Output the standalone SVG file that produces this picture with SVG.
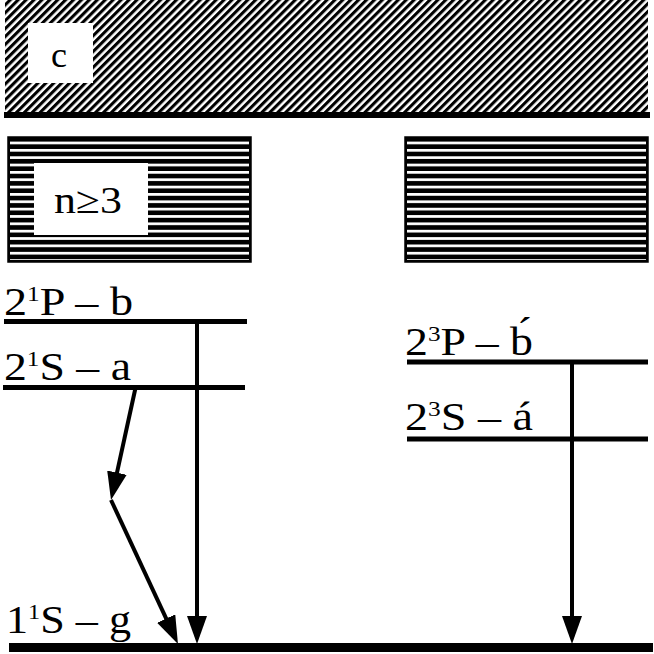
<svg xmlns="http://www.w3.org/2000/svg" width="654" height="654" viewBox="0 0 654 654">
<style>
  .lbl { font-family: "Liberation Serif", "Times New Roman", serif; fill: #000; }
  .lvl { stroke: #000; stroke-width: 5; fill: none; }
  .arr { stroke: #000; stroke-width: 4; fill: none; marker-end: url(#ah); }
  .box { stroke: #000; stroke-width: 1.5; }
</style>
<defs>
  <pattern id="diag" patternUnits="userSpaceOnUse" width="5.6" height="10" patternTransform="rotate(45)">
    <rect x="0" y="0" width="5.6" height="10" fill="#fff"/>
    <rect x="0" y="0" width="3.1" height="10" fill="#000"/>
  </pattern>
  <pattern id="horiz" patternUnits="userSpaceOnUse" x="0" y="137" width="10" height="7.35">
    <rect x="0" y="0" width="10" height="7.35" fill="#000"/>
    <rect x="0" y="4.6" width="10" height="2.7" fill="#fff"/>
  </pattern>
  <marker id="ah" viewBox="0 0 28 20" refX="20" refY="10" markerWidth="28" markerHeight="20" markerUnits="userSpaceOnUse" orient="auto">
    <path d="M0,0 L28,10 L0,20 Z" fill="#000"/>
  </marker>
</defs>

<g id="continuum">
  <rect x="5" y="0" width="643" height="112" fill="url(#diag)"/>
  <line x1="4" y1="115" x2="650" y2="115" stroke="#000" stroke-width="6"/>
  <rect x="28" y="23" width="65" height="60" fill="#fff"/>
  <text class="lbl" x="59" y="67" font-size="36" text-anchor="middle">c</text>
</g>

<g id="singlet-band">
  <rect class="box" x="8" y="137" width="243" height="125" fill="#000"/>
  <rect x="10" y="137" width="239" height="123" fill="url(#horiz)"/>
  <rect x="34" y="163" width="114" height="72" fill="#fff"/>
  <text class="lbl" x="54" y="213" font-size="38" textLength="68" lengthAdjust="spacingAndGlyphs">n≥3</text>
</g>

<g id="triplet-band">
  <rect class="box" x="405" y="137" width="243" height="125" fill="#000"/>
  <rect x="407" y="137" width="239" height="123" fill="url(#horiz)"/>
</g>

<g id="level-2P1">
  <line class="lvl" x1="4" y1="321.5" x2="247" y2="321.5"/>
  <text class="lbl" x="4" y="315" font-size="40" textLength="129" lengthAdjust="spacingAndGlyphs">2<tspan font-size="22" dy="-14">1</tspan><tspan dy="14">P – b</tspan></text>
</g>

<g id="level-2S1">
  <line class="lvl" x1="3" y1="387.5" x2="245" y2="387.5"/>
  <text class="lbl" x="4" y="380" font-size="40" textLength="127" lengthAdjust="spacingAndGlyphs">2<tspan font-size="22" dy="-14">1</tspan><tspan dy="14">S – a</tspan></text>
</g>

<g id="level-2P3">
  <line class="lvl" x1="407" y1="362" x2="648" y2="362"/>
  <text class="lbl" x="405" y="355" font-size="40" textLength="128" lengthAdjust="spacingAndGlyphs">2<tspan font-size="22" dy="-14">3</tspan><tspan dy="14">P – b́</tspan></text>
</g>

<g id="level-2S3">
  <line class="lvl" x1="407" y1="439" x2="648" y2="439"/>
  <text class="lbl" x="405" y="430" font-size="40" textLength="128" lengthAdjust="spacingAndGlyphs">2<tspan font-size="22" dy="-14">3</tspan><tspan dy="14">S – á</tspan></text>
</g>

<g id="level-1S1">
  <line x1="9" y1="647.5" x2="653" y2="647.5" stroke="#000" stroke-width="9"/>
  <text class="lbl" x="6" y="633" font-size="40" textLength="125" lengthAdjust="spacingAndGlyphs">1<tspan font-size="22" dy="-14">1</tspan><tspan dy="14">S – g</tspan></text>
</g>

<g id="connectors">
  <line class="arr" x1="197" y1="321" x2="197" y2="636"/>
  <line class="arr" x1="572" y1="362" x2="572" y2="636"/>
  <line class="arr" x1="135.5" y1="388" x2="112.7" y2="492.2"/>
  <line class="arr" x1="111" y1="500" x2="174.6" y2="636.7"/>
</g>
</svg>
